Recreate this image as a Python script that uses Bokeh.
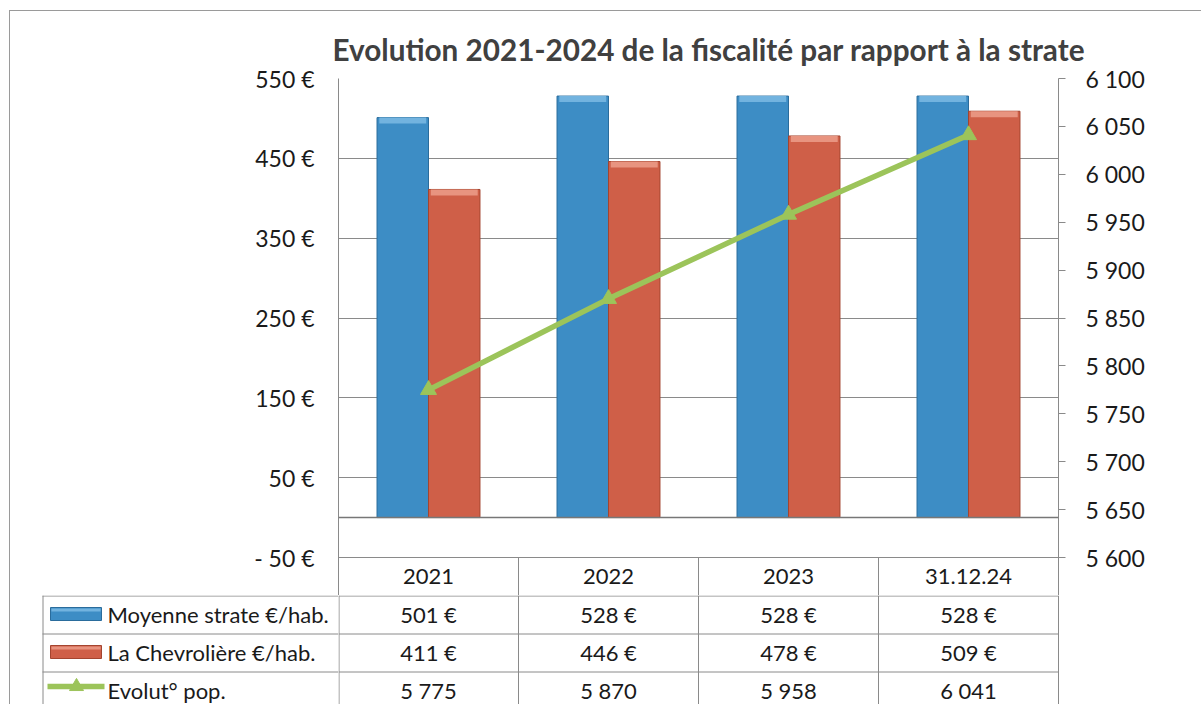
from bokeh.plotting import figure
from bokeh.layouts import column, row
from bokeh.models import (Range1d, FactorRange, LinearAxis, FixedTicker, Span,
                          ColumnDataSource)
from bokeh.transform import dodge
from bokeh.core.properties import value
from bokeh.embed import file_html
from bokeh.resources import INLINE

# ---------------- data ----------------
categories = ["2021", "2022", "2023", "31.12.24"]
moyenne_strate = [501, 528, 528, 528]
la_chevroliere = [411, 446, 478, 509]
population = [5775, 5870, 5958, 6041]
series_names = ["Moyenne strate €/hab.", "La Chevrolière €/hab.", "Evolut° pop."]
left_ticks = [-50, 50, 150, 250, 350, 450, 550]
right_ticks = [5600, 5650, 5700, 5750, 5800, 5850, 5900, 5950, 6000, 6050, 6100]
title_text = "Evolution 2021-2024 de la fiscalité par rapport à la strate"

# ---------------- layout (page pixels) ----------------
OX, OY = 10, 11                     # content origin after margin + 1px border
PAGE_W, PAGE_H = 1201, 704
F_LEFT, F_RIGHT, F_TOP = 338, 1058, 78
AX_BOT = 557                        # page y of -50 / 5600
HDR_BOT = 595                       # bottom of header row
ROW_H = 38
LEG_LEFT = 42
CAT_W = (F_RIGHT - F_LEFT) / len(categories)

W = PAGE_W - OX
H_TOP = HDR_BOT - OY
H_BOT = PAGE_H - HDR_BOT

k_left = (left_ticks[-1] - left_ticks[0]) / (AX_BOT - F_TOP)
k_right = (right_ticks[-1] - right_ticks[0]) / (AX_BOT - F_TOP)
y_start = left_ticks[0] - (HDR_BOT - AX_BOT) * k_left
y2_start = right_ticks[0] - (HDR_BOT - AX_BOT) * k_right


def py(page_y):
    return left_ticks[-1] - (page_y - F_TOP) * k_left


def px(page_x):
    return (page_x - F_LEFT) / CAT_W


FONT = "Lato"
TXT = "#1a1a1a"
GRID = "#8a8a8a"
BLUE = "#3d8dc5"
BLUE_D = "#2a6c9c"
BLUE_L = "#72b3df"
RED = "#cf5f48"
RED_D = "#a4442f"
RED_L = "#e89480"
GREEN = "#9cc45a"

# ================= chart =================
p = figure(width=W, height=H_TOP, output_backend="svg", toolbar_location=None,
           x_range=FactorRange(*categories, range_padding=0),
           y_range=Range1d(y_start, left_ticks[-1]),
           min_border_left=F_LEFT - OX, min_border_right=W - (F_RIGHT - OX),
           min_border_top=F_TOP - OY, min_border_bottom=0,
           x_axis_location=None, y_axis_location="left")
p.background_fill_color = "white"
p.border_fill_color = "white"
p.outline_line_color = None

p.title.text = title_text
p.title.align = "left"
p.title.offset = -6
p.title.text_font = FONT
p.title.text_font_size = "29.7px"
p.title.text_font_style = "bold"
p.title.text_color = "#404040"
p.title.standoff = 24

ax = p.yaxis[0]
ax.ticker = FixedTicker(ticks=left_ticks)
ax.major_label_overrides = {t: (f"{t} €" if t >= 0 else f"- {abs(t)} €") for t in left_ticks}
ax.major_tick_out = 0
ax.major_tick_in = 0
ax.minor_tick_out = 0
ax.minor_tick_in = 0
ax.axis_line_color = GRID
ax.major_label_standoff = 24
ax.major_label_text_font = FONT
ax.major_label_text_font_size = "23px"
ax.major_label_text_color = TXT

p.extra_y_ranges = {"pop": Range1d(y2_start, right_ticks[-1])}
ax2 = LinearAxis(y_range_name="pop", ticker=FixedTicker(ticks=right_ticks))
ax2.major_label_overrides = {t: f"{t:,}".replace(",", " ") for t in right_ticks}
ax2.major_tick_out = 7
ax2.major_tick_in = 0
ax2.minor_tick_out = 0
ax2.minor_tick_in = 0
ax2.major_tick_line_color = GRID
ax2.axis_line_color = GRID
ax2.major_label_standoff = 20
ax2.major_label_text_font = FONT
ax2.major_label_text_font_size = "23px"
ax2.major_label_text_color = TXT
p.add_layout(ax2, "right")

p.xgrid.visible = False
p.ygrid.ticker = FixedTicker(ticks=left_ticks)
p.ygrid.grid_line_color = GRID
p.ygrid.grid_line_width = 1
p.add_layout(Span(location=0, dimension="width", line_color="#777777", line_width=1.5))

src = ColumnDataSource(dict(cat=categories, moy=moyenne_strate, che=la_chevroliere,
                            pop=population))
bw = 0.286
p.vbar(x=dodge("cat", -0.143, range=p.x_range), top="moy", bottom=0, width=bw,
       source=src, fill_color=BLUE, line_color=BLUE_D, line_width=1)
p.vbar(x=dodge("cat", 0.143, range=p.x_range), top="che", bottom=0, width=bw,
       source=src, fill_color=RED, line_color=RED_D, line_width=1)
cap = 6 * k_left
src_cap = ColumnDataSource(dict(cat=categories,
                                m0=[v - cap for v in moyenne_strate], m1=moyenne_strate,
                                c0=[v - cap for v in la_chevroliere], c1=la_chevroliere))
p.vbar(x=dodge("cat", -0.143, range=p.x_range), top="m1", bottom="m0", width=bw - 0.025,
       source=src_cap, fill_color=BLUE_L, line_color=None)
p.vbar(x=dodge("cat", 0.143, range=p.x_range), top="c1", bottom="c0", width=bw - 0.025,
       source=src_cap, fill_color=RED_L, line_color=None)

p.line(x="cat", y="pop", source=src, y_range_name="pop", line_color=GREEN, line_width=5.5)
p.scatter(x="cat", y="pop", source=src, y_range_name="pop", marker="triangle",
          size=16, fill_color=GREEN, line_color=GREEN)

# header row of the data table (category labels)
hdr = ColumnDataSource(dict(cat=categories, y=[py((AX_BOT + HDR_BOT) / 2)] * len(categories)))
p.text(x="cat", y="y", text="cat", source=hdr, text_align="center", text_baseline="middle",
       text_font=value(FONT), text_font_size="22px", text_color=TXT)
sep = ColumnDataSource(dict(cat=categories[:-1], y0=[py(AX_BOT)] * 3, y1=[py(HDR_BOT)] * 3))
p.segment(x0=dodge("cat", 0.5, range=p.x_range), x1=dodge("cat", 0.5, range=p.x_range),
          y0="y0", y1="y1", source=sep, line_color=GRID, line_width=1)

# ================= table body =================
row_tops = [HDR_BOT + r * ROW_H for r in range(3)]
row_mid = [rt + ROW_H / 2 for rt in row_tops]
half = 0.5 / CAT_W


def body_fig(width, x0, x1):
    f = figure(width=width, height=H_BOT, output_backend="svg", toolbar_location=None,
               x_range=Range1d(x0, x1), y_range=Range1d(PAGE_H, HDR_BOT),
               min_border=0, x_axis_location=None, y_axis_location=None)
    f.background_fill_color = "white"
    f.border_fill_color = "white"
    f.outline_line_color = None
    f.xgrid.visible = False
    f.ygrid.visible = False
    return f


# legend column (left of the plot area)
leg = body_fig(F_LEFT - OX, px(OX), 0)
xl = px(LEG_LEFT)
leg.segment(x0=[xl] * 3, x1=[0] * 3, y0=[y + 0.5 for y in row_tops],
            y1=[y + 0.5 for y in row_tops], line_color=GRID, line_width=1)
leg.segment(x0=[xl + half], x1=[xl + half], y0=[HDR_BOT], y1=[PAGE_H],
            line_color=GRID, line_width=1)
leg.text(x=[px(107)] * 3, y=row_mid, text=series_names, text_align="left",
         text_baseline="middle", text_font=value(FONT), text_font_size="22px", text_color=TXT)
kx0, kx1 = px(50), px(101)
leg.quad(left=[kx0, kx0], right=[kx1, kx1],
         top=[row_tops[0] + 12, row_tops[1] + 12], bottom=[row_tops[0] + 25, row_tops[1] + 25],
         fill_color=[BLUE, RED], line_color=[BLUE_D, RED_D], line_width=1)
leg.quad(left=[kx0 + 0.005, kx0 + 0.005], right=[kx1 - 0.005, kx1 - 0.005],
         top=[row_tops[0] + 13, row_tops[1] + 13], bottom=[row_tops[0] + 16, row_tops[1] + 16],
         fill_color=[BLUE_L, RED_L], line_color=None)
gy = row_mid[2] - 4
leg.line(x=[px(47), px(104)], y=[gy, gy], line_color=GREEN, line_width=5.5)
leg.scatter(x=[px(76)], y=[gy], marker="triangle", size=14, fill_color=GREEN, line_color=GREEN)

# value cells
tab = body_fig(PAGE_W - F_LEFT, 0, px(PAGE_W))
ncat = len(categories)
tab.segment(x0=[0] * 3, x1=[ncat] * 3, y0=[y + 0.5 for y in row_tops],
            y1=[y + 0.5 for y in row_tops], line_color=GRID, line_width=1)
col_x = [half] + list(range(1, ncat + 1))
tab.segment(x0=col_x, x1=col_x, y0=[HDR_BOT] * len(col_x), y1=[PAGE_H] * len(col_x),
            line_color=GRID, line_width=1)
rows = [[f"{v} €" for v in moyenne_strate],
        [f"{v} €" for v in la_chevroliere],
        [f"{v:,}".replace(",", " ") for v in population]]
xs, ys, txt = [], [], []
for r, vals in enumerate(rows):
    for i, s in enumerate(vals):
        xs.append(i + 0.5)
        ys.append(row_mid[r])
        txt.append(s)
tab.text(x=xs, y=ys, text=txt, text_align="center", text_baseline="middle",
         text_font=value(FONT), text_font_size="22px", text_color=TXT)

layout = column(p, row(leg, tab, spacing=0), spacing=0, margin=(OY - 1, 0, 0, OX - 1),
                styles={"border-left": "1px solid #9a9a9a", "border-top": "1px solid #9a9a9a"})

open("out.html", "w").write(file_html(layout, INLINE))
